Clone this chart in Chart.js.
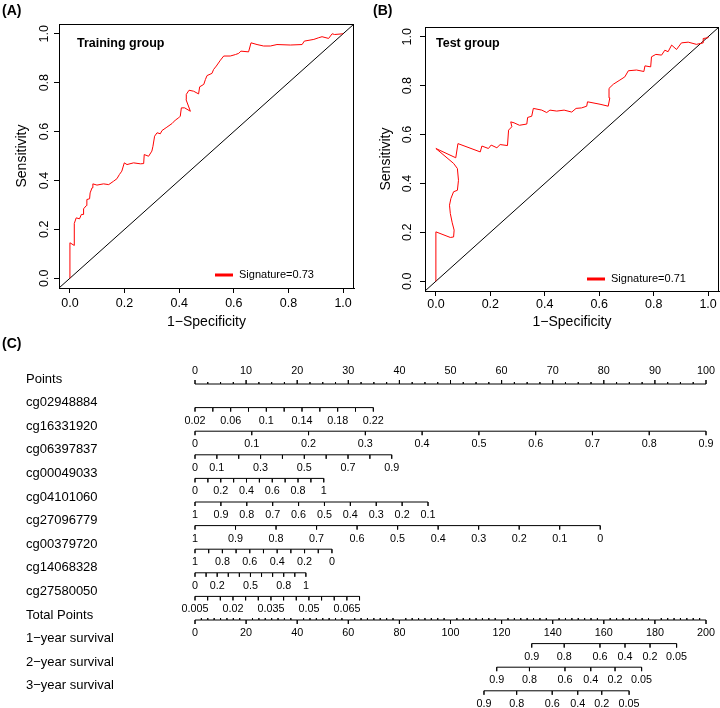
<!DOCTYPE html>
<html>
<head>
<meta charset="utf-8">
<script src="https://cdn.jsdelivr.net/npm/chart.js@4.4.1/dist/chart.umd.min.js"></script>
<style>
  body { margin: 0; background: #fff; }
  #wrap { position: relative; width: 720px; height: 708px; overflow: hidden; font-family: "Liberation Sans", Arial, sans-serif; }
  canvas { position: absolute; }
  .panel { position: absolute; font-weight: bold; font-size: 14px; line-height: 16px; }
</style>
</head>
<body>
<div id="wrap">
  <canvas id="rocA" width="360" height="335" style="left:0;top:0"></canvas>
  <canvas id="rocB" width="360" height="335" style="left:360px;top:0"></canvas>
  <canvas id="nomo" width="720" height="373" style="left:0;top:335px"></canvas>
  <div class="panel" style="left:2px;top:2px">(A)</div>
  <div class="panel" style="left:373px;top:2px">(B)</div>
  <div class="panel" style="left:2px;top:335px">(C)</div>
</div>
<script>
// ROC curves (1-specificity, sensitivity)
var fprTrain = [0, 0, 0.016, 0.016, 0.023, 0.035, 0.042, 0.048, 0.05, 0.06, 0.062, 0.072, 0.074, 0.081, 0.084,
  0.099, 0.123, 0.142, 0.16, 0.172, 0.181, 0.19, 0.199, 0.209, 0.233, 0.258, 0.27, 0.272, 0.288, 0.3, 0.304,
  0.31, 0.319, 0.331, 0.337, 0.355, 0.374, 0.386, 0.398, 0.404, 0.408, 0.42, 0.441, 0.425, 0.426, 0.436,
  0.453, 0.471, 0.475, 0.49, 0.496, 0.502, 0.52, 0.526, 0.536, 0.551, 0.563, 0.587, 0.606, 0.618, 0.626,
  0.654, 0.663, 0.685, 0.709, 0.734, 0.758, 0.807, 0.85, 0.858, 0.893, 0.911, 0.923, 0.947, 0.96, 0.969, 1];
var tprTrain = [0, 0.145, 0.134, 0.224, 0.247, 0.243, 0.261, 0.261, 0.284, 0.297, 0.322, 0.325, 0.349, 0.37, 0.386,
  0.381, 0.386, 0.383, 0.397, 0.407, 0.424, 0.438, 0.472, 0.465, 0.472, 0.468, 0.469, 0.506, 0.499, 0.52, 0.54,
  0.581, 0.595, 0.591, 0.604, 0.618, 0.633, 0.647, 0.656, 0.663, 0.697, 0.697, 0.683, 0.731, 0.752, 0.769,
  0.765, 0.754, 0.783, 0.793, 0.813, 0.829, 0.838, 0.854, 0.868, 0.892, 0.909, 0.909, 0.915, 0.92, 0.929,
  0.926, 0.963, 0.956, 0.95, 0.95, 0.956, 0.954, 0.956, 0.97, 0.977, 0.984, 0.988, 0.981, 1, 0.997, 1];

var fprTest = [0, 0, 0.053, 0.065, 0.067, 0.06, 0.053, 0.05, 0.055, 0.065, 0.079, 0.083, 0.079, 0.065, 0,
  0.073, 0.081, 0.163, 0.169, 0.193, 0.203, 0.224, 0.236, 0.263, 0.267, 0.279, 0.275, 0.287, 0.307, 0.334,
  0.337, 0.352, 0.358, 0.389, 0.407, 0.419, 0.444, 0.471, 0.499, 0.515, 0.535, 0.554, 0.557, 0.603, 0.633,
  0.639, 0.636, 0.652, 0.676, 0.694, 0.707, 0.737, 0.764, 0.768, 0.789, 0.792, 0.808, 0.829, 0.841, 0.853,
  0.866, 0.884, 0.902, 0.927, 0.957, 0.982, 0.982, 1, 1];
var tprTest = [0, 0.202, 0.179, 0.181, 0.209, 0.239, 0.277, 0.311, 0.338, 0.366, 0.372, 0.413, 0.461, 0.482, 0.543,
  0.505, 0.563, 0.529, 0.553, 0.543, 0.557, 0.546, 0.559, 0.555, 0.618, 0.632, 0.652, 0.648, 0.638, 0.643,
  0.67, 0.675, 0.707, 0.7, 0.69, 0.7, 0.696, 0.7, 0.692, 0.707, 0.709, 0.716, 0.734, 0.724, 0.716,
  0.75, 0.789, 0.806, 0.823, 0.836, 0.861, 0.864, 0.858, 0.881, 0.877, 0.918, 0.928, 0.925, 0.945, 0.939,
  0.966, 0.948, 0.975, 0.978, 0.969, 0.975, 0.993, 0.996, 1];

var rocTicks = [0, 0.2, 0.4, 0.6, 0.8, 1];

// nomogram
var pointsMajor = [0, 10, 20, 30, 40, 50, 60, 70, 80, 90, 100];
var totalMajor = [0, 20, 40, 60, 80, 100, 120, 140, 160, 180, 200];
var minorStep = 2.5;

var varNames = ['cg02948884', 'cg16331920', 'cg06397837', 'cg00049033', 'cg04101060',
  'cg27096779', 'cg00379720', 'cg14068328', 'cg27580050'];
var varTicks = [
  [0.02, 0.04, 0.06, 0.08, 0.1, 0.12, 0.14, 0.16, 0.18, 0.2, 0.22],
  [0, 0.1, 0.2, 0.3, 0.4, 0.5, 0.6, 0.7, 0.8, 0.9],
  [0, 0.1, 0.2, 0.3, 0.4, 0.5, 0.6, 0.7, 0.8, 0.9],
  [0, 0.1, 0.2, 0.3, 0.4, 0.5, 0.6, 0.7, 0.8, 0.9, 1],
  [1, 0.9, 0.8, 0.7, 0.6, 0.5, 0.4, 0.3, 0.2, 0.1],
  [1, 0.9, 0.8, 0.7, 0.6, 0.5, 0.4, 0.3, 0.2, 0.1, 0],
  [1, 0.9, 0.8, 0.7, 0.6, 0.5, 0.4, 0.3, 0.2, 0.1, 0],
  [0, 0.1, 0.2, 0.3, 0.4, 0.5, 0.6, 0.7, 0.8, 0.9, 1],
  [0.005, 0.01, 0.015, 0.02, 0.025, 0.03, 0.035, 0.04, 0.045, 0.05, 0.055, 0.06, 0.065, 0.07]
];
var varLabels = [
  [0.02, 0.06, 0.1, 0.14, 0.18, 0.22],
  [0, 0.1, 0.2, 0.3, 0.4, 0.5, 0.6, 0.7, 0.8, 0.9],
  [0, 0.1, 0.3, 0.5, 0.7, 0.9],
  [0, 0.2, 0.4, 0.6, 0.8, 1],
  [1, 0.9, 0.8, 0.7, 0.6, 0.5, 0.4, 0.3, 0.2, 0.1],
  [1, 0.9, 0.8, 0.7, 0.6, 0.5, 0.4, 0.3, 0.2, 0.1, 0],
  [1, 0.8, 0.6, 0.4, 0.2, 0],
  [0, 0.2, 0.5, 0.8, 1],
  [0.005, 0.02, 0.035, 0.05, 0.065]
];
// points given to the first and the last tick of each variable
var varPoints = [[0, 34.9], [0, 100], [0, 38.5], [0, 25.2], [0, 45.6], [0, 79.3], [0, 26.8], [0, 21.7], [0, 32.2]];

var survNames = ['1\u2212year survival', '2\u2212year survival', '3\u2212year survival'];
var survLabels = [0.9, 0.8, 0.6, 0.4, 0.2, 0.05];
var survTotals = [
  [131.8, 144.5, 158.5, 168.3, 178.1, 188.5],
  [118.1, 130.9, 144.8, 154.9, 164.4, 174.8],
  [113.1, 125.9, 139.8, 149.8, 159.2, 169.9]
];

var FONT = '"Liberation Sans", Arial, sans-serif';
Chart.defaults.font.family = FONT;
Chart.defaults.color = '#000';

// frame, group title and legend of the ROC panels
var rocDecor = {
  id: 'rocDecor',
  afterDraw: function (chart, args, o) {
    var a = chart.chartArea, ctx = chart.ctx;
    ctx.save();
    ctx.strokeStyle = '#000';
    ctx.lineWidth = 1;
    ctx.strokeRect(a.left + 0.5, a.top + 0.5, a.right - a.left - 1, a.bottom - a.top);
    ctx.fillStyle = '#000';
    ctx.textBaseline = 'middle';
    ctx.textAlign = 'left';
    ctx.font = 'bold 12.5px ' + FONT;
    ctx.fillText(o.title, o.titleX, o.titleY);
    var ds = chart.data.datasets[0];
    ctx.strokeStyle = ds.borderColor;
    ctx.lineWidth = 3;
    ctx.beginPath();
    ctx.moveTo(o.legX, o.legY);
    ctx.lineTo(o.legX + 18, o.legY);
    ctx.stroke();
    ctx.font = '11px ' + FONT;
    ctx.fillText(ds.label, o.legX + 24, o.legY);
    ctx.restore();
  }
};

function rocChart(id, fpr, tpr, label, o) {
  var pts = fpr.map(function (x, i) { return {x: x, y: tpr[i]}; });
  return new Chart(document.getElementById(id), {
    type: 'scatter',
    data: {
      datasets: [
        { label: label, data: pts, showLine: true, borderColor: '#ff0000', borderWidth: 1, pointRadius: 0 },
        { label: 'chance', data: [{x: -0.04, y: -0.04}, {x: 1.04, y: 1.04}], showLine: true,
          borderColor: '#000', borderWidth: 1, pointRadius: 0 }
      ]
    },
    options: {
      responsive: false,
      animation: false,
      events: [],
      layout: { padding: { left: 0, top: o.top, right: o.right, bottom: 0 } },
      plugins: { legend: { display: false }, tooltip: { enabled: false }, rocDecor: o },
      scales: {
        x: {
          min: -0.04, max: 1.04,
          afterFit: function (s) { s.height = o.xh; },
          border: { color: '#000', width: 1 },
          grid: { drawOnChartArea: false, color: '#000', tickLength: 5 },
          afterBuildTicks: function (s) { s.ticks = rocTicks.map(function (v) { return {value: v}; }); },
          ticks: { maxRotation: 0, autoSkip: false, padding: o.xpad, font: { size: 12.5 },
            callback: function (v) { return v.toFixed(1); } },
          title: { display: true, text: '1\u2212Specificity', font: { size: 14 }, padding: { top: 0, bottom: 4.6 } }
        },
        y: {
          min: -0.04, max: 1.04,
          afterFit: function (s) { s.width = o.yw; },
          border: { color: '#000', width: 1 },
          grid: { drawOnChartArea: false, color: '#000', tickLength: 5 },
          afterBuildTicks: function (s) { s.ticks = rocTicks.map(function (v) { return {value: v}; }); },
          ticks: { minRotation: 90, maxRotation: 90, crossAlign: 'center', autoSkip: false, padding: o.ypad,
            font: { size: 12.5 }, callback: function (v) { return v.toFixed(1); } },
          title: { display: true, text: 'Sensitivity', font: { size: 14 }, padding: { top: o.ytp, bottom: 0 } }
        }
      }
    },
    plugins: [rocDecor]
  });
}

rocChart('rocA', fprTrain, tprTrain, 'Signature=0.73',
  { top: 24, right: 6, xh: 47, yw: 59, xpad: 3, ypad: 0.3, ytp: 14,
    title: 'Training group', titleX: 77, titleY: 44, legX: 215, legY: 275 });
rocChart('rocB', fprTest, tprTest, 'Signature=0.71',
  { top: 27, right: 1, xh: 44, yw: 65, xpad: 1, ypad: 3.3, ytp: 17.6,
    title: 'Test group', titleX: 76, titleY: 44, legX: 227, legY: 279 });

// ---- nomogram ----
var ROW_PX = 23.6;   // distance between two rows
var TICK = 4, MINOR = 2;

function toPoints(v, k) {
  var t = varTicks[k], p = varPoints[k];
  var v0 = t[0], v1 = t[t.length - 1];
  return p[0] + (v - v0) / (v1 - v0) * (p[1] - p[0]);
}

// polyline: axis line with a spike for every tick
function axisPath(ticks, row) {
  var d = [];
  ticks.slice().sort(function (a, b) { return a.at - b.at; }).forEach(function (t) {
    d.push({x: t.at, y: row}, {x: t.at, y: row + t.len / ROW_PX}, {x: t.at, y: row});
  });
  return d;
}

function scaleTicks(major, max, majorLen, minorLen) {
  var out = major.map(function (v) { return {at: v, len: majorLen}; });
  for (var v = 0; v <= max + 1e-9; v += minorStep) {
    if (major.indexOf(v) < 0) out.push({at: v, len: minorLen});
  }
  return out;
}

var rows = [];
rows.push({ name: 'Points', axis: 'x', dy: -13,
  ticks: scaleTicks(pointsMajor, 100, -TICK, -MINOR),
  labels: pointsMajor.map(function (v) { return {at: v, text: String(v)}; }) });
varNames.forEach(function (n, k) {
  rows.push({ name: n, axis: 'x', dy: 13,
    ticks: varTicks[k].map(function (v) { return {at: toPoints(v, k), len: TICK}; }),
    labels: varLabels[k].map(function (v) { return {at: toPoints(v, k), text: String(v)}; }) });
});
rows.push({ name: 'Total Points', axis: 'xt', dy: 13.5,
  ticks: scaleTicks(totalMajor, 200, TICK, -MINOR),
  labels: totalMajor.map(function (v) { return {at: v, text: String(v)}; }) });
survNames.forEach(function (n, k) {
  rows.push({ name: n, axis: 'xt', dy: 13,
    ticks: survTotals[k].map(function (v) { return {at: v, len: TICK}; }),
    labels: survTotals[k].map(function (v, i) { return {at: v, text: String(survLabels[i])}; }) });
});

var nomoText = {
  id: 'nomoText',
  afterDatasetsDraw: function (chart) {
    var ctx = chart.ctx, ys = chart.scales.y;
    ctx.save();
    ctx.fillStyle = '#000';
    ctx.textBaseline = 'middle';
    rows.forEach(function (r, i) {
      var yp = ys.getPixelForValue(i);
      var xs = chart.scales[r.axis];
      ctx.font = '13px ' + FONT;
      ctx.textAlign = 'left';
      ctx.fillText(r.name, 26, yp - 5);
      ctx.font = '10.8px ' + FONT;
      ctx.textAlign = 'center';
      r.labels.forEach(function (l) {
        ctx.fillText(l.text, xs.getPixelForValue(l.at), yp + r.dy);
      });
    });
    ctx.restore();
  }
};

new Chart(document.getElementById('nomo'), {
  type: 'scatter',
  data: {
    datasets: rows.map(function (r, i) {
      return { label: r.name, xAxisID: r.axis, data: axisPath(r.ticks, i), showLine: true,
        borderColor: '#000', borderWidth: 1, pointRadius: 0, clip: false };
    })
  },
  options: {
    responsive: false,
    animation: false,
    events: [],
    layout: { padding: { left: 195, right: 14, top: 49, bottom: 373 - 49 - ROW_PX * 13 } },
    plugins: { legend: { display: false }, tooltip: { enabled: false } },
    scales: {
      x: { type: 'linear', min: 0, max: 100, display: false },
      xt: { type: 'linear', axis: 'x', min: 0, max: 200, display: false },
      y: { type: 'linear', min: 0, max: 13, reverse: true, display: false }
    }
  },
  plugins: [nomoText]
});
</script>
</body>
</html>
